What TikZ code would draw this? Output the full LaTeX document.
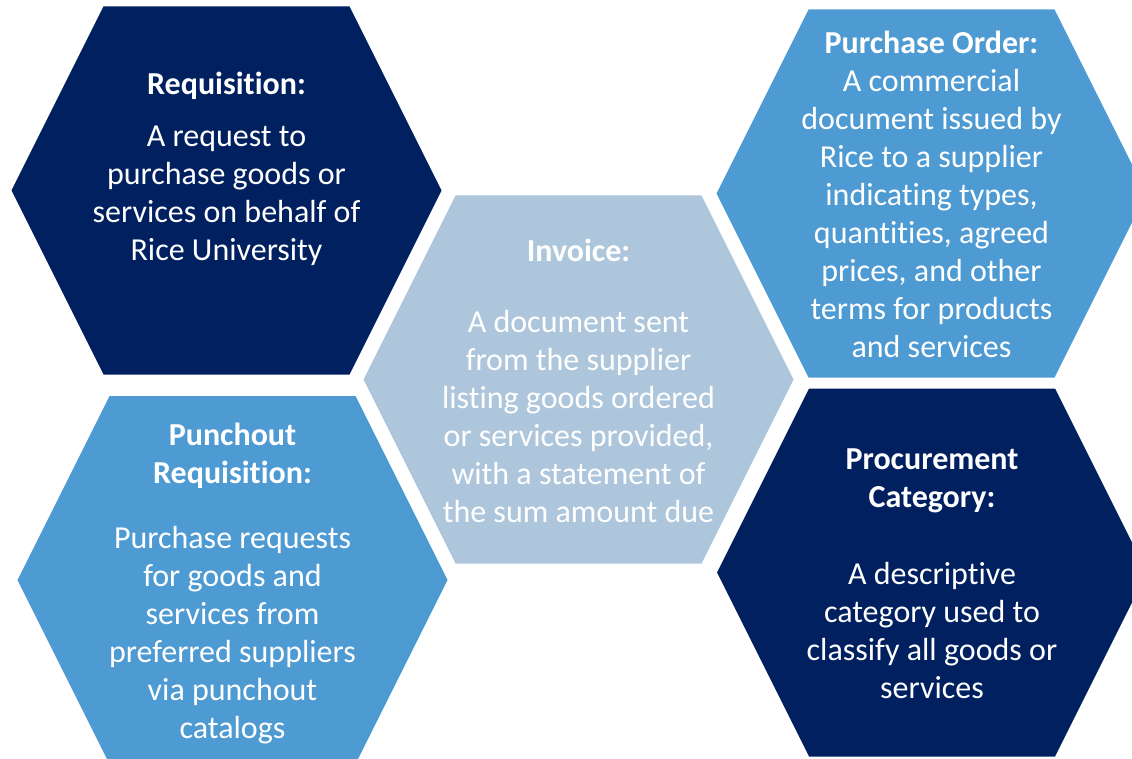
\documentclass[tikz,border=0pt]{standalone}
\usepackage{fontspec}
\setmainfont{Carlito}[Ligatures=NoCommon]
\usepackage{xcolor}
\definecolor{navyc}{HTML}{002060}
\definecolor{midbluec}{HTML}{4E9AD2}
\definecolor{palebluec}{HTML}{ADC6DC}
\tikzstyle{celltext} =[
    text=white,
    align=center,
    inner sep=0pt,
    anchor=north,
    font=\fontsize{32}{38}\selectfont
    ]
\newcommand{\hexcell}[3]{% fill colour, centre x, centre y
\fill[#1, shift={(#2,#3)}] (-215,0) -- (-123,-184) -- (123,-184)
    -- (215,0) -- (123,184) -- (-123,184) -- cycle;}

\begin{document}
\begin{tikzpicture}[x=1pt, y=-1pt]
\useasboundingbox (0,0) rectangle (1132,759);
\clip (0,0) rectangle (1132,759);

\hexcell{navyc}{226.5}{190.5}
\hexcell{midbluec}{931.5}{193.5}
\hexcell{palebluec}{578.5}{379.5}
\hexcell{midbluec}{232.5}{580}
\hexcell{navyc}{932}{572.5}

\node[celltext] (req) at (226.5,72) {%
    \textbf{Requisition:}\\[14pt]
    A request to\\ purchase goods or\\ services on behalf of\\ Rice University};
\node[celltext] (po) at (931.5,31) {%
    \textbf{Purchase Order:}\\
    A commercial\\ document issued by\\ Rice to a supplier\\ indicating types,\\
    quantities, agreed\\ prices, and other\\ terms for products\\ and services};
\node[celltext] (inv) at (578.5,239) {%
    \textbf{Invoice:}\\[33pt]
    A document sent\\ from the supplier\\ listing goods ordered\\
    or services provided,\\ with a statement of\\ the sum amount due};
\node[celltext] (punch) at (232.5,423) {%
    \textbf{Punchout}\\ \textbf{Requisition:}\\[27pt]
    Purchase requests\\ for goods and\\ services from\\ preferred suppliers\\
    via punchout\\ catalogs};
\node[celltext] (cat) at (932,449) {%
    \textbf{Procurement}\\ \textbf{Category:}\\[39pt]
    A descriptive\\ category used to\\ classify all goods or\\ services};
\end{tikzpicture}
\end{document}
